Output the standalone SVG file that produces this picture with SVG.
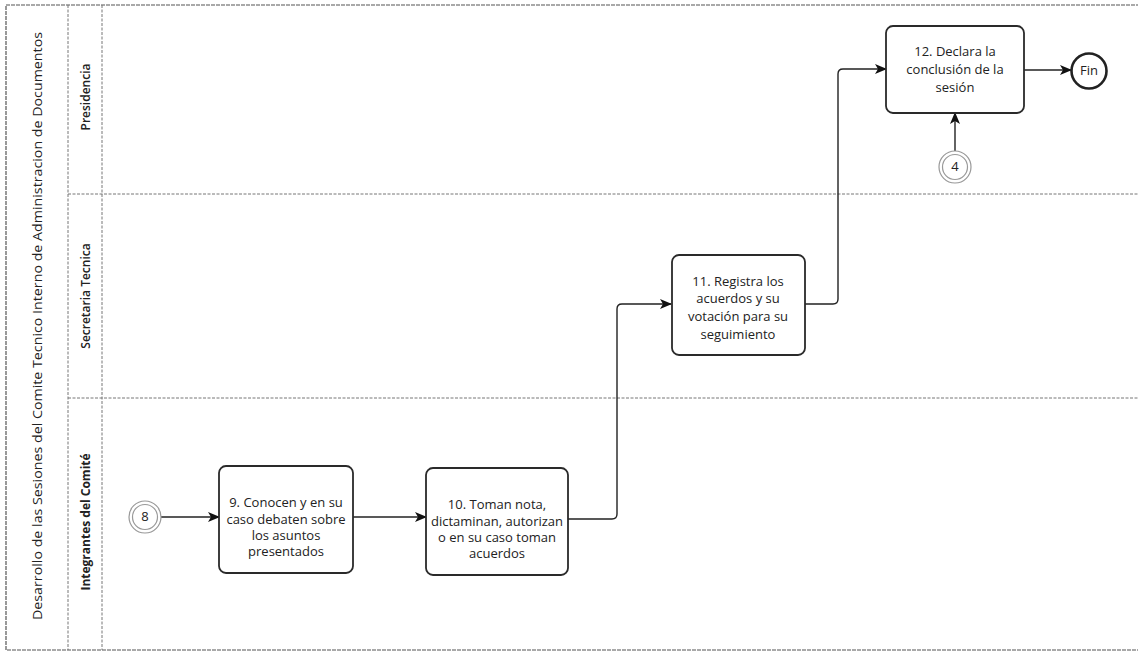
<svg xmlns="http://www.w3.org/2000/svg" width="1138" height="652" viewBox="0 0 1138 652">
<defs>
<style>
.lane{stroke:#777;stroke-width:1;stroke-dasharray:3 1.5;fill:none}
.box{fill:#fff;stroke:#2a2a2a;stroke-width:1.8}
.t{font-family:"Open Sans","Noto Sans",sans-serif;font-size:13px;fill:#222;text-anchor:middle}
.lbl{font-family:"Open Sans","Noto Sans",sans-serif;font-size:12px;fill:#222;text-anchor:middle}
.edge{fill:none;stroke:#222;stroke-width:1.4}
.ev{fill:#fff;stroke:#999;stroke-width:1.2}
</style>
<marker id="ah" viewBox="0 0 12 10" refX="11" refY="5" markerWidth="12" markerHeight="10" markerUnits="userSpaceOnUse" orient="auto">
<path d="M0,0 L12,5 L0,10 L3,5 Z" fill="#111"/>
</marker>
</defs>
<rect width="1138" height="652" fill="#fff"/>
<g id="pool">
<rect x="6" y="5" width="1140" height="645" fill="none" stroke="#555" stroke-width="1.2" stroke-dasharray="4 1"/>
<line class="lane" x1="68" y1="5" x2="68" y2="650"/>
<line class="lane" x1="102" y1="5" x2="102" y2="650"/>
<line class="lane" x1="68" y1="194" x2="1138" y2="194"/>
<line class="lane" x1="68" y1="398" x2="1138" y2="398"/>
<text class="lbl" transform="translate(42,326) rotate(-90)" textLength="588" lengthAdjust="spacingAndGlyphs">Desarrollo  de las Sesiones del Comite Tecnico Interno de Administracion de Documentos</text>
<text class="lbl" transform="translate(90,97) rotate(-90)" font-weight="600">Presidencia</text>
<text class="lbl" transform="translate(90,296) rotate(-90)" font-weight="600">Secretaria Tecnica</text>
<text class="lbl" transform="translate(90,522) rotate(-90)" font-weight="bold">Integrantes del Comité</text>
</g>
<g id="connectors">
<path class="edge" d="M161,517 H219" marker-end="url(#ah)"/>
<path class="edge" d="M353,517 H426" marker-end="url(#ah)"/>
<path class="edge" d="M568,519 H612 Q617,519 617,514 V309 Q617,304 622,304 H671" marker-end="url(#ah)"/>
<path class="edge" d="M805,304 H833 Q838,304 838,299 V74 Q838,69 843,69 H886" marker-end="url(#ah)"/>
<path class="edge" d="M1024,70 H1071" marker-end="url(#ah)"/>
<path class="edge" d="M955,151 V113" marker-end="url(#ah)"/>
</g>
<g id="ev8">
<circle class="ev" cx="145" cy="517" r="16"/>
<circle class="ev" cx="145" cy="517" r="12.5"/>
<text class="t" x="145" y="521" font-size="10">8</text>
</g>
<g id="n9">
<rect class="box" x="219" y="466" width="134" height="107" rx="7"/>
<text class="t" x="286" y="507">9. Conocen y en su</text>
<text class="t" x="286" y="524">caso debaten sobre</text>
<text class="t" x="286" y="540">los asuntos</text>
<text class="t" x="286" y="556">presentados</text>
</g>
<g id="n10">
<rect class="box" x="426" y="468" width="142" height="107" rx="7"/>
<text class="t" x="497" y="509">10. Toman nota,</text>
<text class="t" x="497" y="526">dictaminan, autorizan</text>
<text class="t" x="497" y="542">o en su caso toman</text>
<text class="t" x="497" y="558">acuerdos</text>
</g>
<g id="n11">
<rect class="box" x="672" y="255" width="133" height="100" rx="7"/>
<text class="t" x="738" y="286">11. Registra los</text>
<text class="t" x="738" y="303">acuerdos y su</text>
<text class="t" x="738" y="321">votación para su</text>
<text class="t" x="738" y="339">seguimiento</text>
</g>
<g id="n12">
<rect class="box" x="886" y="26" width="138" height="87" rx="7"/>
<text class="t" x="955" y="56" font-size="14">12. Declara la</text>
<text class="t" x="955" y="74" font-size="14">conclusión de la</text>
<text class="t" x="955" y="92" font-size="14">sesión</text>
</g>
<g id="fin">
<circle cx="1089" cy="71" r="17.5" fill="#fff" stroke="#222" stroke-width="2.6"/>
<text class="t" x="1089" y="75" font-size="12">Fin</text>
</g>
<g id="ev4">
<circle class="ev" cx="955" cy="167" r="16"/>
<circle class="ev" cx="955" cy="167" r="12.5"/>
<text class="t" x="955" y="171" font-size="10">4</text>
</g>
</svg>
